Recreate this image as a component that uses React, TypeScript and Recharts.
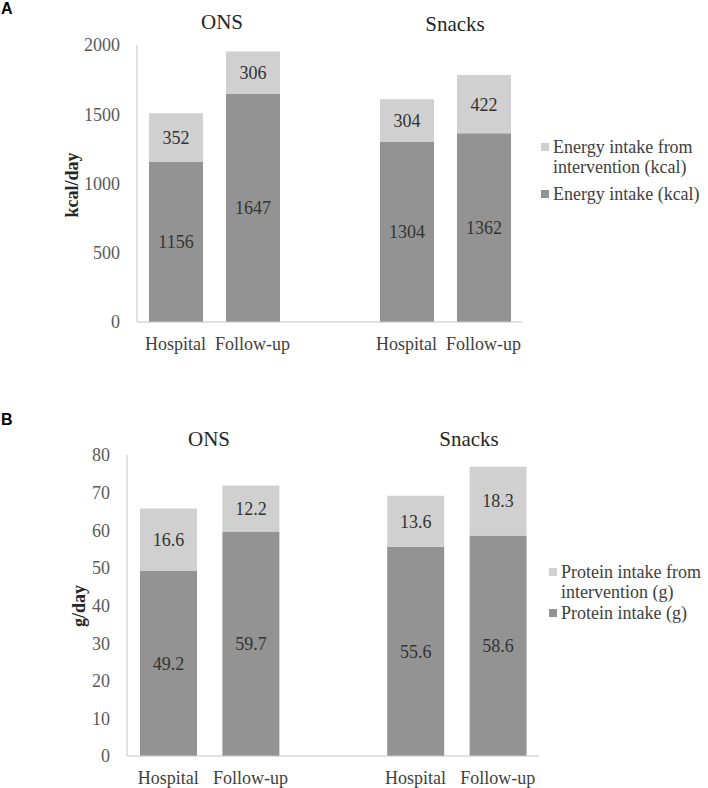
import React from 'react';
import { BarChart, Bar, XAxis, YAxis, LabelList, Legend } from 'recharts';

// Categories along the x axis; the empty one is the gap between the two groups
const categories = ['Hospital', 'Follow-up', '', 'Hospital', 'Follow-up'];
const groupTitles = ['ONS', 'Snacks'];

// Panel A: energy (kcal/day)
const energyIntake = [1156, 1647, null, 1304, 1362];
const energyFromIntervention = [352, 306, null, 304, 422];
const energyTicks = [0, 500, 1000, 1500, 2000];

// Panel B: protein (g/day)
const proteinIntake = [49.2, 59.7, null, 55.6, 58.6];
const proteinFromIntervention = [16.6, 12.2, null, 13.6, 18.3];
const proteinTicks = [0, 10, 20, 30, 40, 50, 60, 70, 80];

const DARK = '#939393';
const LIGHT = '#d0d0d0';
const AXIS = '#c4c4c4';
const SERIF = "'Liberation Serif', 'Times New Roman', serif";

type Val = number | null;

type PanelProps = {
  letter: string;
  top: number;
  height: number;
  base: Val[];
  extra: Val[];
  ticks: number[];
  yLabel: string;
  baseName: string;
  extraName: string;
  axisX: number;
  plotRight: number;
  plotTop: number;
  plotBottom: number;
  barSize: number;
  titlePos: { x: number; y: number }[];
  yLabelPos: { x: number; y: number };
  legendPos: { left: number; top: number; gap: number };
};

function Panel(p: PanelProps) {
  const rows = categories.map((name, i) => ({ name, base: p.base[i], extra: p.extra[i] }));
  const yWidth = 60;
  const xHeight = 30;

  const renderLegend = (props: any) => {
    const items = [...(props.payload || [])].reverse();
    return (
      <div style={{ fontFamily: SERIF, fontSize: 18, color: '#404040', lineHeight: '20px' }}>
        {items.map((it: any, i: number) => (
          <div key={i} style={{ display: 'flex', alignItems: 'flex-start', marginTop: i === 0 ? 0 : p.legendPos.gap }}>
            <span style={{ width: 8, height: 8, background: it.color, marginTop: 6, marginRight: 4, flex: 'none' }} />
            <span style={{ whiteSpace: 'pre-line' }}>{it.value}</span>
          </div>
        ))}
      </div>
    );
  };

  return (
    <div style={{ position: 'absolute', left: 0, top: p.top, width: 708, height: p.height }}>
      <div style={{ position: 'absolute', left: 1, top: p.letter === 'A' ? 1 : 22, fontFamily: "'Liberation Sans', Arial, sans-serif", fontWeight: 'bold', fontSize: 16, lineHeight: '16px' }}>
        {p.letter}
      </div>
      {groupTitles.map((t, i) => (
        <div
          key={t}
          style={{
            position: 'absolute',
            left: p.titlePos[i].x,
            top: p.titlePos[i].y,
            transform: 'translate(-50%, -50%)',
            fontFamily: SERIF,
            fontSize: 21,
            color: '#262626',
            whiteSpace: 'nowrap',
          }}
        >
          {t}
        </div>
      ))}
      <BarChart
        width={708}
        height={p.height}
        data={rows}
        margin={{
          top: p.plotTop,
          left: p.axisX - yWidth,
          right: 708 - p.plotRight,
          bottom: p.height - p.plotBottom - xHeight,
        }}
      >
        <XAxis
          dataKey="name"
          height={xHeight}
          interval={0}
          tickLine={false}
          tickSize={0}
          tickMargin={15}
          axisLine={{ stroke: AXIS }}
          tick={{ fill: '#404040', fontSize: 18, fontFamily: SERIF }}
        />
        <YAxis
          width={yWidth}
          domain={[p.ticks[0], p.ticks[p.ticks.length - 1]]}
          ticks={p.ticks}
          tickLine={false}
          tickSize={0}
          tickMargin={17}
          axisLine={{ stroke: AXIS }}
          tick={{ fill: '#595959', fontSize: 18, fontFamily: SERIF }}
          label={() => (
            <text
              x={p.yLabelPos.x}
              y={p.yLabelPos.y}
              transform={`rotate(-90 ${p.yLabelPos.x} ${p.yLabelPos.y})`}
              textAnchor="middle"
              dominantBaseline="central"
              fontFamily={SERIF}
              fontWeight="bold"
              fontSize={18}
              fill="#262626"
            >
              {p.yLabel}
            </text>
          )}
        />
        <Legend
          layout="vertical"
          align="center"
          verticalAlign="middle"
          content={renderLegend}
          wrapperStyle={{ left: p.legendPos.left, top: p.legendPos.top, width: 175 }}
        />
        <Bar dataKey="base" name={p.baseName} stackId="s" fill={DARK} barSize={p.barSize} isAnimationActive={false}>
          <LabelList
            dataKey="base"
            position="center"
            fill="#333333"
            fontSize={18}
            fontFamily={SERIF}
            formatter={(v: any) => (v == null ? '' : v)}
          />
        </Bar>
        <Bar dataKey="extra" name={p.extraName} stackId="s" fill={LIGHT} barSize={p.barSize} isAnimationActive={false}>
          <LabelList
            dataKey="extra"
            position="center"
            fill="#333333"
            fontSize={18}
            fontFamily={SERIF}
            formatter={(v: any) => (v == null ? '' : v)}
          />
        </Bar>
      </BarChart>
    </div>
  );
}

export default function App() {
  return (
    <div style={{ position: 'absolute', left: 0, top: 0, width: 708, height: 788, background: '#fff' }}>
      <Panel
        letter="A"
        top={0}
        height={390}
        base={energyIntake}
        extra={energyFromIntervention}
        ticks={energyTicks}
        yLabel="kcal/day"
        baseName="Energy intake (kcal)"
        extraName={'Energy intake from\nintervention (kcal)'}
        axisX={137}
        plotRight={522}
        plotTop={45}
        plotBottom={322}
        barSize={54}
        titlePos={[{ x: 222, y: 22 }, { x: 455, y: 24 }]}
        yLabelPos={{ x: 72, y: 185 }}
        legendPos={{ left: 541, top: 137, gap: 7 }}
      />
      <Panel
        letter="B"
        top={390}
        height={398}
        base={proteinIntake}
        extra={proteinFromIntervention}
        ticks={proteinTicks}
        yLabel="g/day"
        baseName="Protein intake (g)"
        extraName={'Protein intake from\nintervention (g)'}
        axisX={127}
        plotRight={539}
        plotTop={65}
        plotBottom={366}
        barSize={57}
        titlePos={[{ x: 209, y: 49 }, { x: 469, y: 49 }]}
        yLabelPos={{ x: 79, y: 216 }}
        legendPos={{ left: 549, top: 172, gap: 1 }}
      />
    </div>
  );
}
